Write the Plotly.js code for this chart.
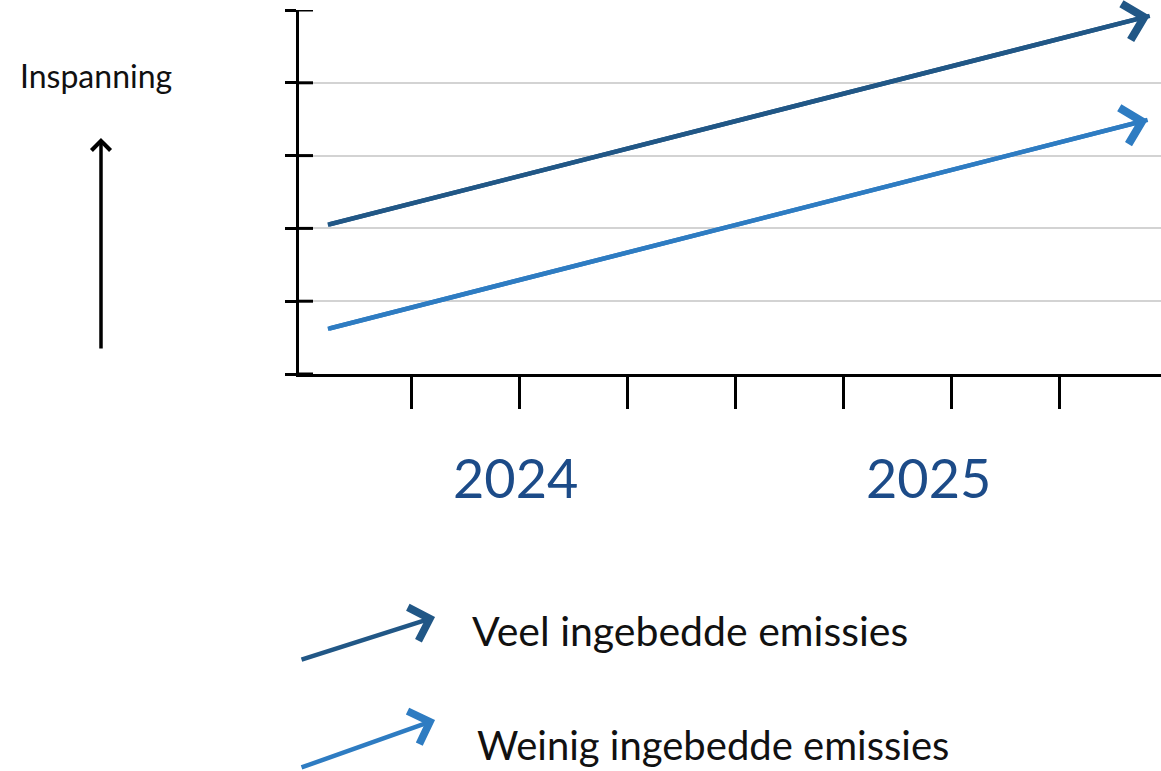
<!DOCTYPE html>
<html>
<head>
<meta charset="utf-8">
<script src="https://cdn.plot.ly/plotly-3.0.1.min.js"></script>
<style>html,body{margin:0;padding:0;background:#fff;}#chart{width:1161px;height:771px;}</style>
</head>
<body>
<div id="chart"></div>
<script>
// ---- data ----
var yearLabels = ['2024', '2025'];
var yearX = [1.97, 5.79];
var xTicks = [1, 2, 3, 4, 5, 6, 7];
var yTicks = [0, 1, 2, 3, 4, 5];
var seriesNames = ['Veel ingebedde emissies', 'Weinig ingebedde emissies'];
var veelX = [0.23, 7.84];
var veelY = [2.05, 4.92];
var weinigX = [0.23, 7.82];
var weinigY = [0.62, 3.49];
var axisLabel = 'Inspanning';

var darkBlue = '#215786';
var lightBlue = '#2e7cc2';
var yearBlue = '#1c4b88';
var font = 'Lato, "Open Sans", sans-serif';

var traces = [
  {x: veelX, y: veelY, mode: 'lines', line: {color: darkBlue, width: 4.5}, hoverinfo: 'skip', name: seriesNames[0]},
  {x: weinigX, y: weinigY, mode: 'lines', line: {color: lightBlue, width: 4.5}, hoverinfo: 'skip', name: seriesNames[1]}
];

function dataArrow(xs, ys, color) {
  return {
    xref: 'x', yref: 'y', axref: 'x', ayref: 'y',
    x: xs[xs.length - 1], y: ys[ys.length - 1],
    ax: xs[xs.length - 2], ay: ys[ys.length - 2],
    text: '', showarrow: true, arrowhead: 4, arrowsize: 1.6, arrowwidth: 4.5,
    arrowcolor: color, standoff: 0, startstandoff: 0
  };
}

var annotations = [
  dataArrow(veelX, veelY, darkBlue),
  dataArrow(weinigX, weinigY, lightBlue),
  // y-axis meaning
  {xref: 'paper', yref: 'paper', x: -0.2355, y: 0.8214, text: axisLabel, showarrow: false,
   xanchor: 'center', yanchor: 'middle', font: {family: font, size: 32, color: '#111'}},
  {xref: 'paper', yref: 'paper', x: -0.2297, y: 0.6484, ax: 0, ay: 212, text: '', showarrow: true,
   arrowhead: 4, arrowsize: 1.05, arrowwidth: 3.5, arrowcolor: '#000', standoff: 0},
  // legend
  {xref: 'paper', yref: 'paper', x: 0.1578, y: -0.6676, ax: -135, ay: 43, text: '', showarrow: true,
   arrowhead: 4, arrowsize: 1.5, arrowwidth: 4.5, arrowcolor: darkBlue, standoff: 0},
  {xref: 'paper', yref: 'paper', x: 0.1578, y: -0.9505, ax: -135, ay: 48, text: '', showarrow: true,
   arrowhead: 4, arrowsize: 1.5, arrowwidth: 4.5, arrowcolor: lightBlue, standoff: 0},
  {xref: 'paper', yref: 'paper', x: 0.1984, y: -0.7033, text: seriesNames[0], showarrow: false,
   xanchor: 'left', yanchor: 'middle', font: {family: font, size: 41, color: '#111'}},
  {xref: 'paper', yref: 'paper', x: 0.2042, y: -1.0192, text: seriesNames[1], showarrow: false,
   xanchor: 'left', yanchor: 'middle', font: {family: font, size: 40, color: '#111'}}
];
yearLabels.forEach(function (t, i) {
  annotations.push({xref: 'x', yref: 'paper', x: yearX[i], y: -0.2857, text: t, showarrow: false,
    xanchor: 'center', yanchor: 'middle', font: {family: font, size: 54, color: yearBlue}});
});

// y tick marks that cross the axis line (short part inside the plot)
var shapes = yTicks.map(function (v) {
  return {type: 'line', xref: 'paper', yref: 'y', x0: 0, x1: 14 / 862, y0: v, y1: v,
          line: {color: '#000', width: 3}, layer: 'above'};
});

var layout = {
  width: 1161, height: 771,
  margin: {l: 299, r: 0, t: 10, b: 397, pad: 0},
  paper_bgcolor: '#fff', plot_bgcolor: '#fff',
  showlegend: false,
  xaxis: {range: [-0.037, 7.944], tickmode: 'array', tickvals: xTicks, ticks: 'outside', ticklen: 32,
          tickwidth: 3, tickcolor: '#000', showline: true, linewidth: 3, linecolor: '#000',
          showgrid: false, zeroline: false, showticklabels: false, fixedrange: true},
  yaxis: {range: [0, 5], tickmode: 'array', tickvals: yTicks, ticks: 'outside', ticklen: 11, tickwidth: 3,
          tickcolor: '#000', showline: true, linewidth: 3, linecolor: '#000', showgrid: true,
          gridcolor: '#d3d3d3', gridwidth: 2, zeroline: false, showticklabels: false, fixedrange: true},
  shapes: shapes,
  annotations: annotations
};

Plotly.newPlot('chart', traces, layout, {displayModeBar: false, staticPlot: true});
</script>
</body>
</html>
